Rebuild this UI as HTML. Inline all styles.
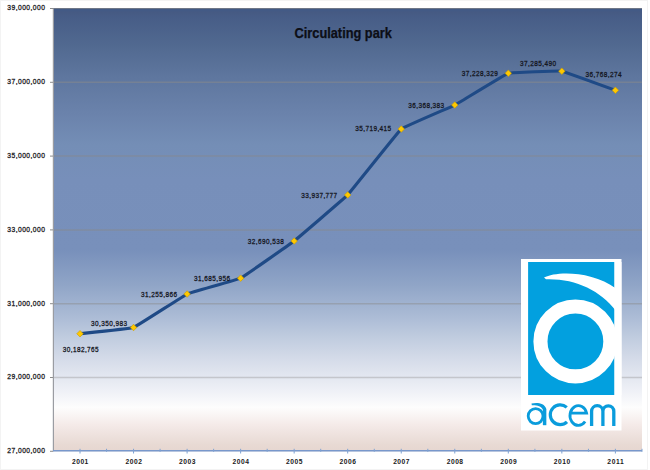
<!DOCTYPE html>
<html><head><meta charset="utf-8"><style>
html,body{margin:0;padding:0;background:#fff;width:650px;height:470px;overflow:hidden}
svg{display:block}
text{font-family:"Liberation Sans",sans-serif}
</style></head><body>
<svg width="650" height="470" viewBox="0 0 650 470">
<defs><linearGradient id="bg" x1="0" y1="0" x2="0" y2="1">
<stop offset="0.0" stop-color="#3f5a88"/>
<stop offset="0.01" stop-color="#465a83"/>
<stop offset="0.02" stop-color="#475d87"/>
<stop offset="0.084" stop-color="#516990"/>
<stop offset="0.153" stop-color="#5e769e"/>
<stop offset="0.242" stop-color="#6b83ac"/>
<stop offset="0.309" stop-color="#748eb6"/>
<stop offset="0.388" stop-color="#778fba"/>
<stop offset="0.546" stop-color="#7890bb"/>
<stop offset="0.625" stop-color="#90a5c7"/>
<stop offset="0.698" stop-color="#acbcd6"/>
<stop offset="0.743" stop-color="#c0ccdf"/>
<stop offset="0.788" stop-color="#d3dae8"/>
<stop offset="0.862" stop-color="#eef0f6"/>
<stop offset="0.901" stop-color="#fdfdfd"/>
<stop offset="0.941" stop-color="#f4eae8"/>
<stop offset="0.984" stop-color="#e8dad4"/>
<stop offset="1.0" stop-color="#e6d6d0"/>
</linearGradient></defs>
<rect x="53.0" y="8" width="589.0" height="443.3" fill="url(#bg)"/>
<line x1="53.0" x2="642.0" y1="8.5" y2="8.5" stroke="#7a7e88" stroke-opacity="0.8" stroke-width="1"/>
<line x1="53.0" x2="642.0" y1="82.30" y2="82.30" stroke="#8a8a8a" stroke-opacity="0.5" stroke-width="1.5"/>
<line x1="53.0" x2="642.0" y1="156.10" y2="156.10" stroke="#8a8a8a" stroke-opacity="0.5" stroke-width="1.5"/>
<line x1="53.0" x2="642.0" y1="229.90" y2="229.90" stroke="#8a8a8a" stroke-opacity="0.5" stroke-width="1.5"/>
<line x1="53.0" x2="642.0" y1="303.70" y2="303.70" stroke="#8a8a8a" stroke-opacity="0.45" stroke-width="1.5"/>
<line x1="53.0" x2="642.0" y1="377.50" y2="377.50" stroke="#8a8a8a" stroke-opacity="0.36" stroke-width="1.5"/>
<line x1="50" x2="53.0" y1="8.50" y2="8.50" stroke="#8c8c8c" stroke-width="1"/>
<text transform="translate(26.1,10.40) scale(0.86,1)" x="0" y="0" text-anchor="middle" font-size="7.8" fill="#1a1a22" stroke="#1a1a22" stroke-width="0.3" textLength="43.72" lengthAdjust="spacing">39,000,000</text>
<line x1="50" x2="53.0" y1="82.30" y2="82.30" stroke="#8c8c8c" stroke-width="1"/>
<text transform="translate(26.1,84.20) scale(0.86,1)" x="0" y="0" text-anchor="middle" font-size="7.8" fill="#1a1a22" stroke="#1a1a22" stroke-width="0.3" textLength="43.72" lengthAdjust="spacing">37,000,000</text>
<line x1="50" x2="53.0" y1="156.10" y2="156.10" stroke="#8c8c8c" stroke-width="1"/>
<text transform="translate(26.1,158.00) scale(0.86,1)" x="0" y="0" text-anchor="middle" font-size="7.8" fill="#1a1a22" stroke="#1a1a22" stroke-width="0.3" textLength="43.72" lengthAdjust="spacing">35,000,000</text>
<line x1="50" x2="53.0" y1="229.90" y2="229.90" stroke="#8c8c8c" stroke-width="1"/>
<text transform="translate(26.1,231.80) scale(0.86,1)" x="0" y="0" text-anchor="middle" font-size="7.8" fill="#1a1a22" stroke="#1a1a22" stroke-width="0.3" textLength="43.72" lengthAdjust="spacing">33,000,000</text>
<line x1="50" x2="53.0" y1="303.70" y2="303.70" stroke="#8c8c8c" stroke-width="1"/>
<text transform="translate(26.1,305.60) scale(0.86,1)" x="0" y="0" text-anchor="middle" font-size="7.8" fill="#1a1a22" stroke="#1a1a22" stroke-width="0.3" textLength="43.72" lengthAdjust="spacing">31,000,000</text>
<line x1="50" x2="53.0" y1="377.50" y2="377.50" stroke="#8c8c8c" stroke-width="1"/>
<text transform="translate(26.1,379.40) scale(0.86,1)" x="0" y="0" text-anchor="middle" font-size="7.8" fill="#1a1a22" stroke="#1a1a22" stroke-width="0.3" textLength="43.72" lengthAdjust="spacing">29,000,000</text>
<line x1="50" x2="53.0" y1="451.30" y2="451.30" stroke="#8c8c8c" stroke-width="1"/>
<text transform="translate(26.1,453.20) scale(0.86,1)" x="0" y="0" text-anchor="middle" font-size="7.8" fill="#1a1a22" stroke="#1a1a22" stroke-width="0.3" textLength="43.72" lengthAdjust="spacing">27,000,000</text>
<line x1="53.4" x2="53.4" y1="8.5" y2="451.3" stroke="#9a9ca2" stroke-width="1.2"/>
<line x1="53.0" x2="642.0" y1="450.7" y2="450.7" stroke="#7898cc" stroke-width="1.4"/>
<line x1="106.55" x2="106.55" y1="448.80" y2="451.80" stroke="#7ea2d2" stroke-width="1"/>
<line x1="160.09" x2="160.09" y1="448.80" y2="451.80" stroke="#7ea2d2" stroke-width="1"/>
<line x1="213.64" x2="213.64" y1="448.80" y2="451.80" stroke="#7ea2d2" stroke-width="1"/>
<line x1="267.18" x2="267.18" y1="448.80" y2="451.80" stroke="#7ea2d2" stroke-width="1"/>
<line x1="320.73" x2="320.73" y1="448.80" y2="451.80" stroke="#7ea2d2" stroke-width="1"/>
<line x1="374.27" x2="374.27" y1="448.80" y2="451.80" stroke="#7ea2d2" stroke-width="1"/>
<line x1="427.82" x2="427.82" y1="448.80" y2="451.80" stroke="#7ea2d2" stroke-width="1"/>
<line x1="481.36" x2="481.36" y1="448.80" y2="451.80" stroke="#7ea2d2" stroke-width="1"/>
<line x1="534.91" x2="534.91" y1="448.80" y2="451.80" stroke="#7ea2d2" stroke-width="1"/>
<line x1="588.45" x2="588.45" y1="448.80" y2="451.80" stroke="#7ea2d2" stroke-width="1"/>
<line x1="642.00" x2="642.00" y1="448.80" y2="451.80" stroke="#7ea2d2" stroke-width="1"/>
<line x1="80.03" x2="80.03" y1="448.80" y2="453.50" stroke="#7ea2d2" stroke-width="1"/>
<text transform="translate(80.13,464.1) scale(0.88,1)" x="0" y="0" text-anchor="middle" font-size="7.6" font-weight="bold" fill="#1a1a1a" textLength="18.64" lengthAdjust="spacing">2001</text>
<line x1="133.56" x2="133.56" y1="448.80" y2="453.50" stroke="#7ea2d2" stroke-width="1"/>
<text transform="translate(133.66,464.1) scale(0.88,1)" x="0" y="0" text-anchor="middle" font-size="7.6" font-weight="bold" fill="#1a1a1a" textLength="18.64" lengthAdjust="spacing">2002</text>
<line x1="187.10" x2="187.10" y1="448.80" y2="453.50" stroke="#7ea2d2" stroke-width="1"/>
<text transform="translate(187.20,464.1) scale(0.88,1)" x="0" y="0" text-anchor="middle" font-size="7.6" font-weight="bold" fill="#1a1a1a" textLength="18.64" lengthAdjust="spacing">2003</text>
<line x1="240.63" x2="240.63" y1="448.80" y2="453.50" stroke="#7ea2d2" stroke-width="1"/>
<text transform="translate(240.73,464.1) scale(0.88,1)" x="0" y="0" text-anchor="middle" font-size="7.6" font-weight="bold" fill="#1a1a1a" textLength="18.64" lengthAdjust="spacing">2004</text>
<line x1="294.17" x2="294.17" y1="448.80" y2="453.50" stroke="#7ea2d2" stroke-width="1"/>
<text transform="translate(294.27,464.1) scale(0.88,1)" x="0" y="0" text-anchor="middle" font-size="7.6" font-weight="bold" fill="#1a1a1a" textLength="18.64" lengthAdjust="spacing">2005</text>
<line x1="347.70" x2="347.70" y1="448.80" y2="453.50" stroke="#7ea2d2" stroke-width="1"/>
<text transform="translate(347.80,464.1) scale(0.88,1)" x="0" y="0" text-anchor="middle" font-size="7.6" font-weight="bold" fill="#1a1a1a" textLength="18.64" lengthAdjust="spacing">2006</text>
<line x1="401.24" x2="401.24" y1="448.80" y2="453.50" stroke="#7ea2d2" stroke-width="1"/>
<text transform="translate(401.34,464.1) scale(0.88,1)" x="0" y="0" text-anchor="middle" font-size="7.6" font-weight="bold" fill="#1a1a1a" textLength="18.64" lengthAdjust="spacing">2007</text>
<line x1="454.77" x2="454.77" y1="448.80" y2="453.50" stroke="#7ea2d2" stroke-width="1"/>
<text transform="translate(454.88,464.1) scale(0.88,1)" x="0" y="0" text-anchor="middle" font-size="7.6" font-weight="bold" fill="#1a1a1a" textLength="18.64" lengthAdjust="spacing">2008</text>
<line x1="508.31" x2="508.31" y1="448.80" y2="453.50" stroke="#7ea2d2" stroke-width="1"/>
<text transform="translate(508.41,464.1) scale(0.88,1)" x="0" y="0" text-anchor="middle" font-size="7.6" font-weight="bold" fill="#1a1a1a" textLength="18.64" lengthAdjust="spacing">2009</text>
<line x1="561.84" x2="561.84" y1="448.80" y2="453.50" stroke="#7ea2d2" stroke-width="1"/>
<text transform="translate(561.94,464.1) scale(0.88,1)" x="0" y="0" text-anchor="middle" font-size="7.6" font-weight="bold" fill="#1a1a1a" textLength="18.64" lengthAdjust="spacing">2010</text>
<line x1="615.38" x2="615.38" y1="448.80" y2="453.50" stroke="#7ea2d2" stroke-width="1"/>
<text transform="translate(615.48,464.1) scale(0.88,1)" x="0" y="0" text-anchor="middle" font-size="7.6" font-weight="bold" fill="#1a1a1a" textLength="18.64" lengthAdjust="spacing">2011</text>
<text x="343.2" y="37.8" text-anchor="middle" font-size="13.8" font-weight="bold" fill="#0c0e16" stroke="#0c0e16" stroke-width="0.25" textLength="97.4" lengthAdjust="spacingAndGlyphs">Circulating park</text>
<rect x="521" y="259" width="100.5" height="171.5" fill="#ffffff"/>
<rect x="528.1" y="262.0" width="86.4" height="133" fill="#02a0df"/>
<circle cx="575.4" cy="341.4" r="34.95" fill="none" stroke="#ffffff" stroke-width="14.1"/>
<path d="M544,277.6 C556,271 592,270.8 616,288.4 L616,311 C600,290 575,278.4 546,279.3 Z" fill="#ffffff"/>
<rect x="614.5" y="262" width="7" height="133" fill="#ffffff"/>
<g fill="none" stroke="#0a9cdc">
<ellipse cx="535.6" cy="416.1" rx="7.4" ry="7.55" stroke-width="2.8"/>
<path d="M544.6,425.2 L544.6,409" stroke-width="3.5"/>
<path d="M566.74,407.43 A9.85,9.85 0 1,0 566.99,421.84" stroke-width="3.2"/>
<path d="M569.6,413.1 L586.6,413.1 A8.45,9.9 0 1,0 585.1,421.6" stroke-width="2.8"/>
<path d="M591.6,425.9 L591.6,411.35 A5.65,5.65 0 0,1 602.9,411.35 L602.9,425.9 M602.9,411.35 A5.45,5.45 0 0,1 613.8,411.35 L613.8,425.9" stroke-width="3.3"/>
</g>
<path d="M531.5,403.4 C536,402.4 544.5,402.2 546.35,409 L542.85,409.5 C541,406 537,405 531.8,405.2 Z" fill="#0a9cdc"/>
<path d="M80.03,333.72 C81.37,333.56 130.89,328.49 133.56,327.50 C136.24,326.51 184.42,295.28 187.10,294.05 C189.78,292.81 237.96,279.47 240.63,278.15 C243.31,276.82 291.49,243.09 294.17,241.01 C296.85,238.93 345.03,197.71 347.70,194.91 C350.38,192.11 398.56,131.29 401.24,129.05 C403.92,126.80 452.10,106.45 454.77,105.06 C457.45,103.66 505.63,74.12 508.31,73.27 C510.99,72.42 559.17,70.73 561.84,71.16 C564.52,71.58 614.04,89.80 615.38,90.28" fill="none" stroke="#1f4a86" stroke-width="3.1" stroke-linejoin="round" stroke-linecap="round"/>
<path d="M80.03,330.47 L83.28,333.72 L80.03,336.97 L76.78,333.72 Z" fill="#ffc800" stroke="#c89a00" stroke-width="0.6"/>
<path d="M133.56,324.25 L136.81,327.50 L133.56,330.75 L130.31,327.50 Z" fill="#ffc800" stroke="#c89a00" stroke-width="0.6"/>
<path d="M187.10,290.80 L190.35,294.05 L187.10,297.30 L183.85,294.05 Z" fill="#ffc800" stroke="#c89a00" stroke-width="0.6"/>
<path d="M240.63,274.90 L243.88,278.15 L240.63,281.40 L237.38,278.15 Z" fill="#ffc800" stroke="#c89a00" stroke-width="0.6"/>
<path d="M294.17,237.76 L297.42,241.01 L294.17,244.26 L290.92,241.01 Z" fill="#ffc800" stroke="#c89a00" stroke-width="0.6"/>
<path d="M347.70,191.66 L350.95,194.91 L347.70,198.16 L344.45,194.91 Z" fill="#ffc800" stroke="#c89a00" stroke-width="0.6"/>
<path d="M401.24,125.80 L404.49,129.05 L401.24,132.30 L397.99,129.05 Z" fill="#ffc800" stroke="#c89a00" stroke-width="0.6"/>
<path d="M454.77,101.81 L458.02,105.06 L454.77,108.31 L451.52,105.06 Z" fill="#ffc800" stroke="#c89a00" stroke-width="0.6"/>
<path d="M508.31,70.02 L511.56,73.27 L508.31,76.52 L505.06,73.27 Z" fill="#ffc800" stroke="#c89a00" stroke-width="0.6"/>
<path d="M561.84,67.91 L565.09,71.16 L561.84,74.41 L558.59,71.16 Z" fill="#ffc800" stroke="#c89a00" stroke-width="0.6"/>
<path d="M615.38,87.03 L618.63,90.28 L615.38,93.53 L612.13,90.28 Z" fill="#ffc800" stroke="#c89a00" stroke-width="0.6"/>
<text transform="translate(80.70,352.20) scale(0.88,1)" x="0" y="0" text-anchor="middle" font-size="7.3" fill="#14161e" stroke="#14161e" stroke-width="0.28" textLength="40.91" lengthAdjust="spacing">30,182,765</text>
<text transform="translate(109.00,326.10) scale(0.88,1)" x="0" y="0" text-anchor="middle" font-size="7.3" fill="#14161e" stroke="#14161e" stroke-width="0.28" textLength="40.91" lengthAdjust="spacing">30,350,983</text>
<text transform="translate(159.00,296.50) scale(0.88,1)" x="0" y="0" text-anchor="middle" font-size="7.3" fill="#14161e" stroke="#14161e" stroke-width="0.28" textLength="40.91" lengthAdjust="spacing">31,255,866</text>
<text transform="translate(212.00,281.20) scale(0.88,1)" x="0" y="0" text-anchor="middle" font-size="7.3" fill="#14161e" stroke="#14161e" stroke-width="0.28" textLength="40.91" lengthAdjust="spacing">31,685,956</text>
<text transform="translate(265.80,243.60) scale(0.88,1)" x="0" y="0" text-anchor="middle" font-size="7.3" fill="#14161e" stroke="#14161e" stroke-width="0.28" textLength="40.91" lengthAdjust="spacing">32,690,538</text>
<text transform="translate(319.20,198.00) scale(0.88,1)" x="0" y="0" text-anchor="middle" font-size="7.3" fill="#14161e" stroke="#14161e" stroke-width="0.28" textLength="40.91" lengthAdjust="spacing">33,937,777</text>
<text transform="translate(373.20,131.10) scale(0.88,1)" x="0" y="0" text-anchor="middle" font-size="7.3" fill="#14161e" stroke="#14161e" stroke-width="0.28" textLength="40.91" lengthAdjust="spacing">35,719,415</text>
<text transform="translate(426.20,108.10) scale(0.88,1)" x="0" y="0" text-anchor="middle" font-size="7.3" fill="#14161e" stroke="#14161e" stroke-width="0.28" textLength="40.91" lengthAdjust="spacing">36,368,383</text>
<text transform="translate(479.80,75.80) scale(0.88,1)" x="0" y="0" text-anchor="middle" font-size="7.3" fill="#14161e" stroke="#14161e" stroke-width="0.28" textLength="40.91" lengthAdjust="spacing">37,228,329</text>
<text transform="translate(538.10,66.10) scale(0.88,1)" x="0" y="0" text-anchor="middle" font-size="7.3" fill="#14161e" stroke="#14161e" stroke-width="0.28" textLength="40.91" lengthAdjust="spacing">37,285,490</text>
<text transform="translate(603.50,76.80) scale(0.88,1)" x="0" y="0" text-anchor="middle" font-size="7.3" fill="#14161e" stroke="#14161e" stroke-width="0.28" textLength="40.91" lengthAdjust="spacing">36,768,274</text>
<rect x="0.5" y="0.5" width="647" height="469" fill="none" stroke="#f3f3f3" stroke-width="1"/>
</svg></body></html>
